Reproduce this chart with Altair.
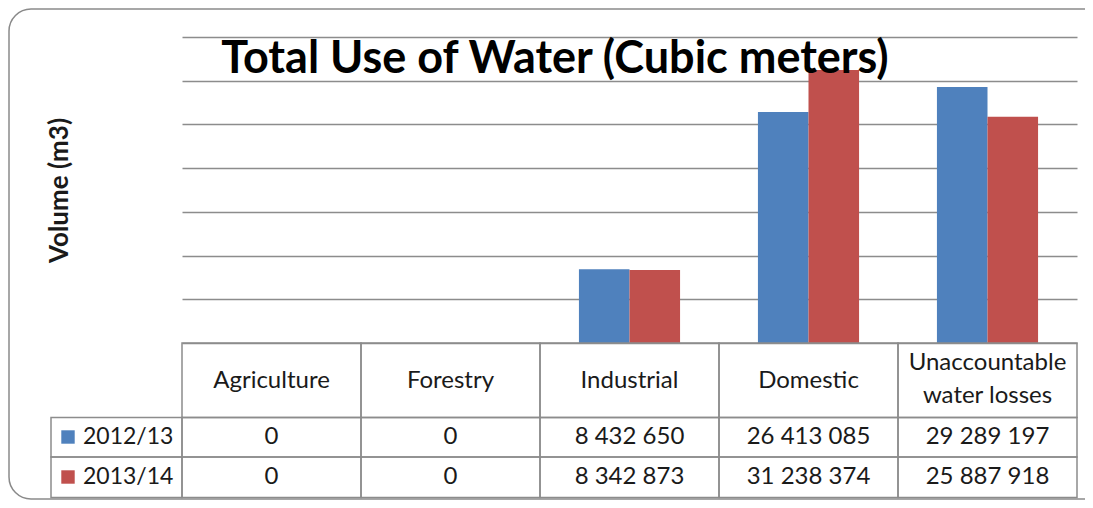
import altair as alt
import pandas as pd

categories = ["Agriculture", "Forestry", "Industrial", "Domestic", "Unaccountable water losses"]
header_labels = ["Agriculture", "Forestry", "Industrial", "Domestic", "Unaccountable\nwater losses"]
series = ["2012/13", "2013/14"]
values_2012 = [0, 0, 8432650, 26413085, 29289197]
values_2013 = [0, 0, 8342873, 31238374, 25887918]
colors = ["#4F81BD", "#C0504D"]
y_ticks = [0, 5000000, 10000000, 15000000, 20000000, 25000000, 30000000, 35000000]
title_text = "Total Use of Water (Cubic meters)"
y_title = "Volume (m3)"

rows = []
for s, vals in zip(series, [values_2012, values_2013]):
    for c, v in zip(categories, vals):
        rows.append({"cat": c, "series": s, "value": v,
                     "label": f"{v:,}".replace(",", " ")})
df = pd.DataFrame(rows)
hdr = pd.DataFrame({"cat": categories, "header": header_labels})
hdr["lines"] = hdr["header"].str.count("\n") + 1
leg = pd.DataFrame({"series": series})
one = pd.DataFrame({"a": [0]})

W, H = 895, 306
FONT = "Lato"
TXT = "#1a1a1a"
LINE = "#8c8c8c"
FS = 24

xenc = alt.X("cat:N", sort=categories,
             scale=alt.Scale(paddingInner=0, paddingOuter=0), axis=None)
color = alt.Color("series:N", scale=alt.Scale(domain=series, range=colors), legend=None)

bars = alt.Chart(df).mark_bar().encode(
    x=xenc,
    xOffset=alt.XOffset("series:N",
                        scale=alt.Scale(paddingOuter=0.77, paddingInner=0)),
    y=alt.Y("value:Q", scale=alt.Scale(domain=[0, 35000000], nice=False),
            axis=alt.Axis(values=y_ticks, labels=False, ticks=False, domain=False,
                          grid=True, gridColor=LINE, gridWidth=1.5,
                          title=y_title, titleFont=FONT, titleFontSize=26,
                          titleFontWeight="bold", titleColor=TXT,
                          titleX=-123, titleY=153, titleAngle=270,
                          titleAlign="center", titleBaseline="middle")),
    color=color,
)

title = alt.Chart(pd.DataFrame({"t": [title_text]})).mark_text(
    font=FONT, fontSize=45, fontWeight="bold", color="#000000",
    align="center", baseline="alphabetic"
).encode(x=alt.value(373), y=alt.value(35.5), text="t:N")

frame = alt.Chart(one).mark_rect(
    cornerRadius=22, fillOpacity=0, stroke="#8a8a8a", strokeWidth=1.5
).encode(x=alt.value(-173), x2=alt.value(930), y=alt.value(-28), y2=alt.value(462))

# table cells: header column boxes and value rows
cols = alt.Chart(hdr).mark_rect(fillOpacity=0, stroke=LINE, strokeWidth=1.5).encode(
    x=xenc, y=alt.value(306), y2=alt.value(380.5))
cols2 = alt.Chart(hdr).mark_rect(fillOpacity=0, stroke=LINE, strokeWidth=1.5).encode(
    x=xenc, y=alt.value(380.5), y2=alt.value(420))
cols3 = alt.Chart(hdr).mark_rect(fillOpacity=0, stroke=LINE, strokeWidth=1.5).encode(
    x=xenc, y=alt.value(420), y2=alt.value(460.5))
left1 = alt.Chart(one).mark_rect(fillOpacity=0, stroke=LINE, strokeWidth=1.5).encode(
    x=alt.value(-131), x2=alt.value(0), y=alt.value(380.5), y2=alt.value(420))
left2 = alt.Chart(one).mark_rect(fillOpacity=0, stroke=LINE, strokeWidth=1.5).encode(
    x=alt.value(-131), x2=alt.value(0), y=alt.value(420), y2=alt.value(460.5))

header1 = alt.Chart(hdr).transform_filter(alt.datum.lines == 1).mark_text(
    font=FONT, fontSize=FS, color=TXT, align="center", baseline="middle"
).encode(x=xenc, y=alt.value(344), text="header:N")
header2 = alt.Chart(hdr).transform_filter(alt.datum.lines == 2).mark_text(
    font=FONT, fontSize=FS, color=TXT, lineBreak="\n", lineHeight=33,
    align="center", baseline="middle"
).encode(x=xenc, y=alt.value(326), text="header:N")

row_layers = []
for s, yy in zip(series, (400, 440)):
    row_layers.append(alt.Chart(df).transform_filter(alt.datum.series == s).mark_text(
        font=FONT, fontSize=FS, color=TXT, align="center", baseline="middle"
    ).encode(x=xenc, y=alt.value(yy), text="label:N"))
    row_layers.append(alt.Chart(leg).transform_filter(alt.datum.series == s).mark_square(
        size=180, filled=True, opacity=1
    ).encode(x=alt.value(-114), y=alt.value(yy), color=color))
    row_layers.append(alt.Chart(leg).transform_filter(alt.datum.series == s).mark_text(
        font=FONT, fontSize=23, color=TXT, align="left", baseline="middle"
    ).encode(x=alt.value(-99), y=alt.value(yy), text="series:N"))

chart = alt.layer(
    frame, bars, title, cols, cols2, cols3, left1, left2, header1, header2, *row_layers
).properties(
    width=W, height=H,
    background="white",
    autosize=alt.AutoSizeParams(type="none"),
    padding={"left": 174, "top": 29, "right": 8, "bottom": 157},
).configure_view(stroke=None)

chart.save("out.html", embed_options={"renderer": "svg", "actions": False})
